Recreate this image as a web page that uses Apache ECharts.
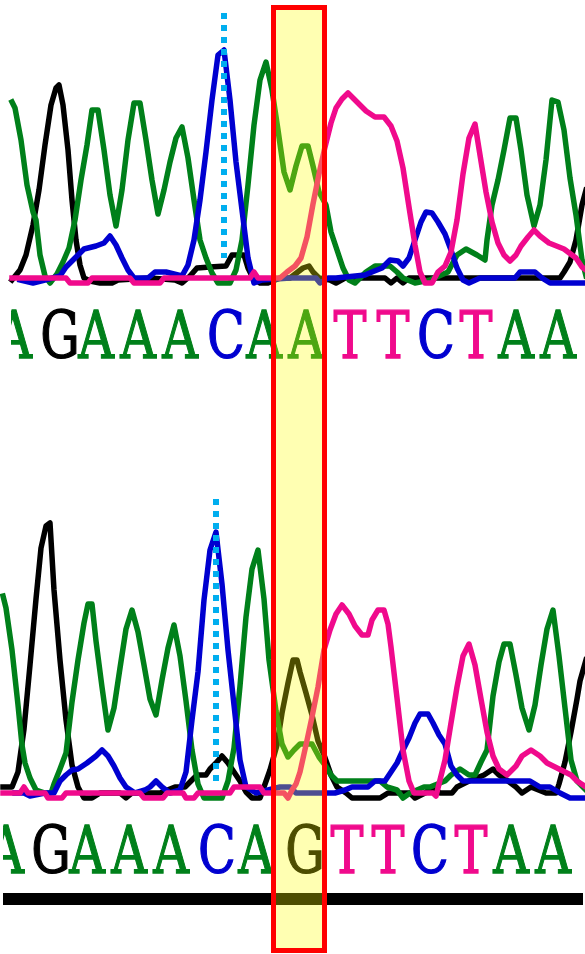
<!DOCTYPE html>
<html>
<head>
<meta charset="utf-8">
<script src="https://cdn.jsdelivr.net/npm/echarts@6/dist/echarts.min.js"></script>
<style>
  html, body { margin: 0; padding: 0; background: #ffffff; }
  #chart { width: 585px; height: 954px; }
</style>
</head>
<body>
<div id="chart"></div>
<script>
// Sanger trace comparison: reference read (top) vs. sample read (bottom).
// Each trace is [scan position, signal] pairs.

const topA = [[12,176],[15,170],[21,138],[27,93],[33,66],[36,58],[40,23],[45,2],[50,-5],[57,4],[63,16],[69,30],[75,58],[81,98],[87,133],[92,168],[98,168],[104,128],[110,83],[116,52],[122,88],[128,138],[134,175],[140,175],[146,138],[152,98],[158,64],[164,88],[170,116],[176,140],[182,151],[188,120],[194,78],[200,38],[206,20],[212,5],[218,-5],[230,-5],[236,8],[242,38],[248,93],[254,153],[260,198],[266,216],[272,188],[278,148],[284,106],[290,88],[296,112],[302,132],[308,132],[313,112],[319,86],[326,73],[331,46],[337,28],[343,10],[349,-2],[355,-5],[366,6],[375,12],[390,12],[397,6],[403,0],[415,-5],[430,-2],[448,6],[457,23],[466,29],[477,23],[485,18],[487,38],[492,73],[498,98],[504,128],[510,160],[516,160],[521,128],[527,83],[534,52],[540,73],[546,118],[552,178],[558,176],[564,148],[570,100],[576,63],[582,18],[586,2]];
const topC = [[20,-2],[33,-5],[45,-2],[60,2],[66,11],[72,17],[78,23],[84,29],[96,32],[104,35],[110,42],[116,33],[122,20],[128,8],[134,0],[148,0],[155,6],[166,6],[182,2],[188,13],[194,38],[200,78],[206,126],[212,178],[218,223],[224,228],[230,178],[236,116],[242,68],[248,20],[254,-5],[262,-2],[290,0],[316,0],[320,-5],[328,0],[336,0],[365,3],[372,6],[382,10],[390,18],[398,17],[403,12],[409,20],[415,38],[421,56],[426,66],[432,65],[438,56],[445,44],[451,28],[457,10],[463,-2],[469,-5],[480,0],[515,0],[520,6],[535,6],[542,0],[550,-5],[586,-5]];
const topG = [[12,-2],[20,8],[26,23],[33,53],[39,88],[45,133],[51,173],[56,190],[59,193],[63,173],[68,128],[72,78],[76,38],[80,13],[84,0],[90,-3],[100,-5],[112,-5],[118,-2],[150,0],[175,-2],[182,-5],[190,2],[197,10],[210,11],[226,12],[232,23],[244,23],[248,10],[253,0],[260,-5],[268,-5],[280,0],[290,0],[303,10],[309,12],[313,6],[319,0],[330,-2],[336,-5],[345,0],[385,0],[391,-5],[397,0],[403,-5],[409,0],[560,0],[564,6],[570,16],[576,38],[582,73],[586,88]];
const topT = [[12,0],[66,0],[70,-5],[88,-5],[92,0],[130,0],[134,-5],[160,-5],[164,0],[250,0],[254,6],[258,0],[280,0],[287,6],[295,12],[301,20],[307,41],[313,74],[319,104],[325,131],[331,155],[336,170],[342,179],[348,185],[354,179],[360,173],[366,167],[375,161],[384,161],[391,152],[397,137],[403,110],[409,71],[415,33],[420,6],[425,-5],[432,-5],[438,6],[445,12],[451,26],[457,58],[463,104],[469,140],[475,154],[480,123],[486,86],[492,56],[498,35],[504,23],[510,17],[516,23],[521,32],[528,41],[534,48],[540,42],[549,35],[564,29],[576,20],[582,11],[586,8]];

const bottomA = [[3,197],[6,185],[12,143],[18,88],[22,48],[25,30],[30,15],[36,3],[45,0],[51,0],[54,9],[60,24],[66,40],[72,91],[78,133],[84,170],[88,189],[92,189],[96,152],[102,106],[108,63],[114,85],[120,125],[126,164],[132,183],[138,161],[144,128],[150,94],[156,78],[162,113],[168,145],[174,168],[180,137],[186,92],[192,43],[198,9],[204,-5],[222,-5],[228,12],[234,45],[240,107],[246,176],[252,224],[258,243],[264,194],[269,133],[276,82],[282,49],[288,36],[294,43],[300,49],[312,49],[319,36],[325,28],[331,18],[337,12],[380,12],[387,6],[397,3],[403,-5],[410,0],[424,6],[430,6],[445,12],[451,18],[460,24],[469,18],[475,18],[481,31],[487,43],[493,97],[499,131],[504,149],[510,149],[516,118],[522,85],[529,63],[535,88],[541,128],[547,164],[553,183],[559,137],[565,85],[571,33],[577,12],[586,3]];
const bottomC = [[15,0],[24,0],[30,-3],[45,0],[54,0],[60,12],[66,18],[72,23],[78,24],[87,30],[96,37],[102,43],[108,37],[114,27],[120,15],[126,6],[135,0],[145,3],[150,6],[156,12],[162,6],[170,0],[180,3],[186,21],[192,73],[198,121],[204,193],[210,243],[216,261],[222,209],[228,143],[234,88],[240,33],[246,6],[256,0],[280,6],[290,6],[296,0],[335,0],[345,3],[352,6],[368,6],[375,12],[385,12],[391,21],[397,30],[403,43],[409,55],[415,70],[420,79],[428,79],[433,70],[439,58],[445,49],[451,27],[457,18],[463,12],[530,12],[540,6],[550,6],[560,0],[570,-5],[586,-5]];
const bottomG = [[3,6],[12,6],[18,21],[24,64],[30,128],[36,194],[41,245],[46,267],[50,270],[54,203],[60,133],[66,73],[72,28],[78,6],[84,-5],[92,-5],[100,0],[120,0],[126,-5],[132,0],[160,0],[175,6],[185,6],[191,12],[197,18],[206,18],[210,24],[216,30],[222,37],[228,30],[234,21],[240,12],[246,1],[252,-5],[260,-5],[264,6],[270,23],[277,48],[282,80],[288,110],[293,133],[297,133],[300,121],[306,100],[312,78],[318,52],[324,38],[331,18],[337,6],[346,0],[352,-5],[380,-5],[388,0],[410,0],[415,-5],[425,0],[433,6],[440,0],[452,0],[457,6],[469,12],[484,18],[493,24],[499,18],[508,12],[516,6],[522,0],[531,6],[546,0],[556,0],[559,9],[565,31],[571,61],[577,94],[580,112],[586,133]];
const bottomT = [[3,0],[20,0],[24,6],[28,0],[45,0],[48,-5],[62,-5],[66,0],[140,0],[144,-5],[163,-5],[167,0],[183,0],[186,-5],[194,-5],[198,0],[230,0],[234,6],[260,6],[264,0],[284,0],[288,-5],[292,3],[296,9],[300,21],[306,48],[312,76],[318,106],[324,143],[330,163],[336,179],[342,188],[349,179],[355,167],[362,158],[368,158],[372,173],[378,183],[384,183],[388,169],[391,146],[397,95],[403,43],[409,12],[414,0],[433,0],[436,-3],[439,9],[445,33],[451,70],[457,106],[463,137],[469,149],[475,128],[481,94],[487,61],[493,37],[499,24],[507,18],[516,27],[522,37],[531,43],[540,37],[547,30],[559,24],[571,18],[577,12],[586,6]];

// Base calls and the scan positions they sit under
const topCalls = ['A','G','A','A','A','C','A','A','T','T','C','T','A','A'];
const topCallPos = [14, 60, 96, 138, 180, 226, 264, 306, 350, 393, 436, 476, 516, 558];
const bottomCalls = ['A','G','A','A','A','C','A','G','T','T','C','T','A','A'];
const bottomCallPos = [6, 51, 87, 129, 171, 217, 256, 305, 347, 388, 430, 471, 511, 553];

// Cursor (current base) marker on each read: [scan, signal from, signal to]
const topCursor = [224, 265, 20];
const bottomCursor = [216, 294, 10];

// First scan shown in each read window
const topStart = 11;
const bottomStart = 3;

const baseColors = { A: '#00801A', C: '#0000D0', G: '#000000', T: '#F00A8C' };

const chart = echarts.init(document.getElementById('chart'), null, { renderer: 'canvas' });

function trace(data, base, gi) {
  return {
    type: 'line', xAxisIndex: gi, yAxisIndex: gi, data: data,
    showSymbol: false, symbol: 'none', silent: true, animation: false,
    lineStyle: { color: baseColors[base], width: 5.5, join: 'round', cap: 'square' }
  };
}

function cursor(c, gi) {
  return {
    type: 'line', xAxisIndex: gi, yAxisIndex: gi, z: 5,
    data: [[c[0], c[1]], [c[0], c[2]]],
    showSymbol: false, symbol: 'none', silent: true, animation: false,
    lineStyle: { color: '#00AEEF', width: 6, type: [6, 6], cap: 'butt' }
  };
}

function calls(letters, pos, gi) {
  return {
    type: 'custom', xAxisIndex: gi, yAxisIndex: gi, clip: true, silent: true, animation: false,
    data: pos.map((x, i) => [x, 0, i]),
    renderItem: function (params, api) {
      const p = api.coord([api.value(0), 0]);
      const ch = letters[api.value(2)];
      return {
        type: 'text', x: p[0], y: p[1] + 63, scaleX: 0.75,
        style: {
          text: ch, fill: baseColors[ch], stroke: baseColors[ch], lineWidth: 1.3,
          font: '66px "DejaVu Serif"',
          textAlign: 'center', textVerticalAlign: 'middle', align: 'center', verticalAlign: 'middle'
        }
      };
    }
  };
}

chart.setOption({
  backgroundColor: '#ffffff',
  animation: false,
  grid: [
    { left: topStart, top: 0, right: 0, height: 380 },
    { left: bottomStart, top: 480, right: 0, height: 420 }
  ],
  xAxis: [
    { type: 'value', gridIndex: 0, min: topStart, max: 585, show: false },
    { type: 'value', gridIndex: 1, min: bottomStart, max: 585, show: false }
  ],
  yAxis: [
    { type: 'value', gridIndex: 0, min: -102, max: 278, show: false },
    { type: 'value', gridIndex: 1, min: -107, max: 313, show: false }
  ],
  series: [
    trace(topG, 'G', 0), trace(topA, 'A', 0), trace(topC, 'C', 0), trace(topT, 'T', 0),
    cursor(topCursor, 0), calls(topCalls, topCallPos, 0),
    trace(bottomG, 'G', 1), trace(bottomA, 'A', 1), trace(bottomC, 'C', 1), trace(bottomT, 'T', 1),
    cursor(bottomCursor, 1), calls(bottomCalls, bottomCallPos, 1)
  ],
  graphic: [
    { type: 'rect', z: 50, silent: true, shape: { x: 3, y: 893, width: 580, height: 12 }, style: { fill: '#000000' } },
    { type: 'rect', z: 100, silent: true, shape: { x: 273.5, y: 7.5, width: 51, height: 943 },
      style: { fill: 'rgba(255,255,0,0.3)', stroke: '#FF0000', lineWidth: 5 } }
  ]
});
</script>
</body>
</html>
